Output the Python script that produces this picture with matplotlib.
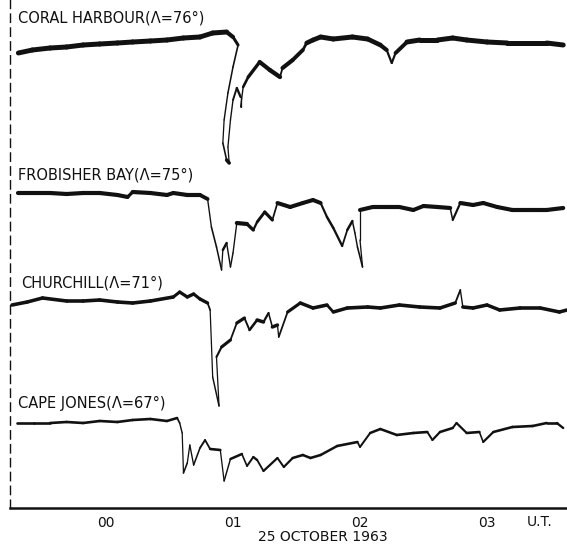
import numpy as np
import matplotlib
matplotlib.use("Agg")
import matplotlib.pyplot as plt
from matplotlib.collections import LineCollection
import matplotlib.transforms as mtransforms

# ---------------- data (hours UT, relative deflection) ----------------
coral_t = [-0.69, -0.58, -0.44, -0.31, -0.18, -0.05, 0.09, 0.21, 0.35, 0.48, 0.61, 0.74,
           0.84, 0.95, 1.00, 1.04,
           1.00, 0.96, 0.93, 0.92, 0.95, 0.97,
           0.96, 0.98, 1.00, 1.03, 1.06, 1.06, 1.08, 1.12, 1.21, 1.29, 1.37, 1.39,
           1.47, 1.55, 1.58, 1.63, 1.69, 1.79, 1.94, 2.06, 2.16, 2.21, 2.25, 2.28,
           2.37, 2.47, 2.61, 2.73, 2.84, 3.00, 3.16, 3.31, 3.47, 3.60]
coral_v = [-8, -5, -3, -2, 0, 1, 2, 3, 4, 5, 7, 8,
           12, 13, 8, 0,
           -22, -48, -75, -98, -115, -118,
           -102, -75, -55, -43, -52, -62, -42, -32, -17, -25, -32, -23,
           -15, -5, 2, 5, 8, 6, 8, 6, 0, -5, -18, -8,
           3, 5, 5, 7, 5, 3, 2, 2, 2, 0]

frob_t = [-0.69, -0.58, -0.44, -0.31, -0.18, -0.05, 0.09, 0.17, 0.21, 0.35, 0.48, 0.53,
          0.64, 0.74, 0.80, 0.83, 0.87, 0.91, 0.92, 0.95, 0.98, 1.00, 1.03, 1.11,
          1.16, 1.19, 1.25, 1.31, 1.35, 1.45, 1.55, 1.63, 1.69, 1.74, 1.79, 1.86,
          1.90, 1.94, 1.96, 1.98, 2.02, 2.00, 2.00, 2.10, 2.21, 2.31, 2.42, 2.50,
          2.61, 2.71, 2.73, 2.79, 2.89, 2.97, 3.08, 3.20, 3.34, 3.47, 3.60]
frob_v = [2, 2, 2, 1, 2, 2, 0, -2, 3, 2, 0, 2,
          0, 0, -4, -32, -52, -75, -55, -48, -72, -58, -28, -29,
          -35, -27, -17, -25, -8, -12, -8, -5, -8, -22, -33, -51,
          -35, -26, -38, -52, -72, -45, -15, -12, -12, -12, -15, -11,
          -12, -13, -25, -8, -10, -8, -12, -15, -15, -15, -13]

church_t = [-0.74, -0.62, -0.50, -0.31, -0.18, -0.05, 0.09, 0.21, 0.35, 0.53, 0.58, 0.64,
            0.69, 0.74, 0.80, 0.82, 0.83, 0.84, 0.89,
            0.87, 0.91, 0.98, 1.03, 1.09, 1.13, 1.19, 1.24, 1.28, 1.31, 1.35, 1.36,
            1.43, 1.53, 1.63, 1.74, 1.79, 1.90, 2.06, 2.16, 2.31, 2.47, 2.63, 2.75,
            2.79, 2.81, 2.89, 3.00, 3.10, 3.26, 3.42, 3.57, 3.63]
church_v = [-3, 0, 4, 1, 1, 2, 0, -1, 1, 5, 10, 5,
            8, 3, -1, -8, -41, -75, -104,
            -55, -45, -38, -21, -16, -28, -18, -20, -11, -25, -23, -35,
            -10, -1, -6, -3, -10, -6, -5, -6, -3, -5, -6, -1,
            12, -5, -6, -3, -8, -6, -6, -10, -8]

jones_t = [-0.70, -0.57, -0.44, -0.31, -0.18, -0.05, 0.09, 0.21, 0.35, 0.48, 0.56, 0.58,
           0.60, 0.61, 0.64, 0.66, 0.69, 0.74, 0.78, 0.82, 0.90, 0.93, 0.98, 1.07,
           1.11, 1.16, 1.19, 1.24, 1.35, 1.40, 1.47, 1.55, 1.61, 1.69, 1.82, 1.98,
           2.00, 2.08, 2.16, 2.29, 2.42, 2.53, 2.57, 2.63, 2.73, 2.76, 2.84, 2.94,
           2.97, 3.05, 3.20, 3.36, 3.47, 3.55, 3.60]
jones_v = [-1, -1, -1, 0, -1, 1, 0, 2, 3, 1, 4, -1,
           -11, -51, -41, -23, -43, -26, -18, -27, -28, -59, -37, -32,
           -44, -35, -38, -49, -36, -45, -36, -33, -36, -33, -24, -20,
           -25, -11, -7, -13, -11, -10, -18, -10, -6, -1, -11, -10,
           -20, -10, -5, -4, -1, -1, -6]

stations = ["CORAL HARBOUR", "FROBISHER BAY", "CHURCHILL", "CAPE JONES"]
lat_labels = ["76°", "75°", "71°", "67°"]
tick_hours = [0, 1, 2, 3]
tick_labels = ["00", "01", "02", "03"]
date_label = "25 OCTOBER 1963"

# ---------------- layout ----------------
W, H = 567, 546
fig = plt.figure(figsize=(W / 100, H / 100), dpi=100)
ax_left, ax_right, ax_top, ax_bot = 10, 567, 0, 508
ax = fig.add_axes([ax_left / W, (H - ax_bot) / H, (ax_right - ax_left) / W, (ax_bot - ax_top) / H])

px_per_hour = 127.0
t0 = (ax_left - 106) / px_per_hour
t1 = (ax_right - 106) / px_per_hour
ax.set_xlim(t0, t1)
ax.set_ylim(0, 508)

offsets = [463, 313, 206, 86]
base_lw = [3.6, 3.0, 2.6, 1.9]
label_y = [490, 333, 225, 105]
label_x = [-0.69, -0.69, -0.67, -0.69]

series = [(coral_t, coral_v), (frob_t, frob_v), (church_t, church_v), (jones_t, jones_v)]
ink = "#111111"
for (t, v), off, lw in zip(series, offsets, base_lw):
    t = np.asarray(t, float)
    y = off + np.asarray(v, float)
    pts = np.column_stack([t, y])
    segs = np.stack([pts[:-1], pts[1:]], axis=1)
    dx = np.abs(np.diff(t)) * px_per_hour
    dy = np.abs(np.diff(y))
    slope = dy / np.maximum(dx, 0.5)
    thin = 0.9
    widths = thin + (lw - thin) / (1 + (slope / 1.5) ** 2)
    lc = LineCollection(segs, linewidths=widths, colors=ink, capstyle="round", joinstyle="round")
    ax.add_collection(lc)

for name, lat, ly, lx in zip(stations, lat_labels, label_y, label_x):
    ax.text(lx, ly, f"{name}(\u039b={lat})", fontsize=10.5, family="DejaVu Sans",
            ha="left", va="center", color=ink)

# axes styling
for s in ["top", "right"]:
    ax.spines[s].set_visible(False)
ax.spines["bottom"].set_linewidth(1.8)
ax.spines["bottom"].set_color(ink)
ax.spines["left"].set_linewidth(1.0)
ax.spines["left"].set_color(ink)
ax.spines["left"].set_linestyle((0, (6, 4)))
ax.set_yticks([])
ax.set_xticks(tick_hours)
ax.set_xticklabels(tick_labels, fontsize=10, family="DejaVu Sans", color=ink)
ax.tick_params(axis="x", length=0, pad=6)

trans = mtransforms.blended_transform_factory(ax.transData, fig.transFigure)
ax.text((540 - 106) / px_per_hour, 1 - 522 / H, "U.T.", transform=trans, fontsize=10,
        ha="center", va="center", color=ink)
ax.text((323 - 106) / px_per_hour, 1 - 537 / H, date_label, transform=trans, fontsize=10,
        ha="center", va="center", color=ink)

fig.savefig("out.png", dpi=100)
